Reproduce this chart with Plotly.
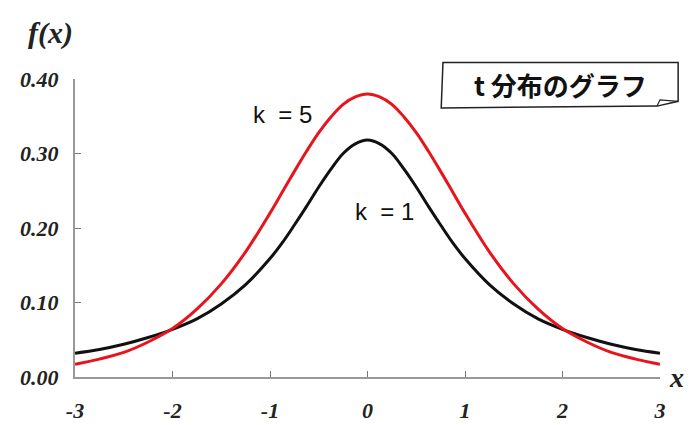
import plotly.graph_objects as go

# Sample points along x and density values of the two t-distribution curves
x_vals = [-3.0, -2.75, -2.5, -2.25, -2.0, -1.75, -1.5, -1.25, -1.0, -0.875, -0.75, -0.625, -0.5,
          -0.375, -0.25, -0.125, 0.0, 0.125, 0.25, 0.375, 0.5, 0.625, 0.75, 0.875, 1.0,
          1.25, 1.5, 1.75, 2.0, 2.25, 2.5, 2.75, 3.0]
f_k1 = [0.032, 0.037, 0.044, 0.053, 0.064, 0.078, 0.098, 0.124, 0.159, 0.180, 0.204, 0.229, 0.255,
        0.279, 0.300, 0.313, 0.318, 0.313, 0.300, 0.279, 0.255, 0.229, 0.204, 0.180, 0.159,
        0.124, 0.098, 0.078, 0.064, 0.053, 0.044, 0.037, 0.032]
f_k5 = [0.017, 0.024, 0.033, 0.047, 0.065, 0.091, 0.125, 0.168, 0.220, 0.248, 0.276, 0.303, 0.328,
        0.349, 0.366, 0.376, 0.380, 0.376, 0.366, 0.349, 0.328, 0.303, 0.276, 0.248, 0.220,
        0.168, 0.125, 0.091, 0.065, 0.047, 0.033, 0.024, 0.017]

x_ticks = [-3, -2, -1, 0, 1, 2, 3]
x_tick_text = ["-3", "-2", "-1", "0", "1", "2", "3"]
y_ticks = [0.0, 0.1, 0.2, 0.3, 0.4]
y_tick_text = ["0.00", "0.10", "0.20", "0.30", "0.40"]

serif = dict(family="Liberation Serif", size=22, color="#222222", weight="bold", style="italic")
sans = dict(family="Liberation Sans", size=24, color="#111111")

fig = go.Figure()
fig.add_trace(go.Scatter(x=x_vals, y=f_k1, mode="lines", line=dict(color="#111111", width=3, shape="spline"),
                         showlegend=False, hoverinfo="skip"))
fig.add_trace(go.Scatter(x=x_vals, y=f_k5, mode="lines", line=dict(color="#e8141c", width=3, shape="spline"),
                         showlegend=False, hoverinfo="skip"))

fig.update_layout(
    width=696, height=425,
    margin=dict(l=75, r=36, t=79, b=48, autoexpand=False),
    paper_bgcolor="white", plot_bgcolor="white",
    xaxis=dict(range=[-3, 3], tickvals=x_ticks, ticktext=x_tick_text, showgrid=False, zeroline=False,
               showline=True, linecolor="#999999", linewidth=2, ticks="inside", ticklen=6,
               tickcolor="#777777", tickwidth=1, tickfont=serif, ticklabelstandoff=13, automargin=False),
    yaxis=dict(range=[0, 0.40], tickvals=y_ticks, ticktext=y_tick_text, showgrid=False, zeroline=False,
               showline=True, linecolor="#999999", linewidth=2, ticks="inside", ticklen=6,
               tickcolor="#777777", tickwidth=1, tickfont=serif, ticklabelstandoff=10, automargin=False),
)

# Axis names
fig.add_annotation(text="f(x)", xref="paper", yref="paper", x=0.0, y=1.09, xanchor="right", yanchor="bottom",
                   showarrow=False, font=dict(family="Liberation Serif", size=30, color="#222222",
                                              weight="bold", style="italic"))
fig.add_annotation(text="x", xref="paper", yref="paper", x=1.012, y=0.0, xanchor="left", yanchor="middle",
                   showarrow=False, font=dict(family="Liberation Serif", size=28, color="#222222",
                                              weight="bold", style="italic"))

# Curve labels
fig.add_annotation(text="k  = 5", x=-0.87, y=0.353, xref="x", yref="y", showarrow=False, font=sans)
fig.add_annotation(text="k  = 1", x=0.17, y=0.222, xref="x", yref="y", showarrow=False, font=sans)

# Title box with a folded bottom-right corner
fig.add_shape(type="path", xref="paper", yref="paper",
              path="M 0.629,1.055 L 1.031,1.055 L 1.031,0.925 L 0.995,0.909 L 0.626,0.903 Z",
              line=dict(color="#222222", width=1.5), fillcolor="white")
fig.add_shape(type="path", xref="paper", yref="paper",
              path="M 0.995,0.909 L 1.00,0.930 L 1.031,0.925",
              line=dict(color="#222222", width=1.2))
fig.add_annotation(text="t 分布のグラフ", xref="paper", yref="paper", x=0.83, y=0.98, xanchor="center",
                   yanchor="middle", showarrow=False,
                   font=dict(family="Noto Sans CJK JP", size=26, color="#111111", weight="bold"))

fig.write_html("out.html")
